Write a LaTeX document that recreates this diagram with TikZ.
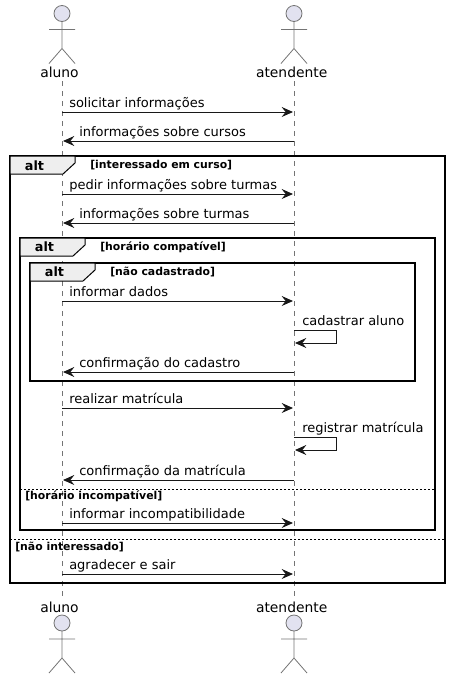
\documentclass[tikz,border=0pt]{standalone}
\usepackage{fontspec}
\usepackage{xcolor}
\usepackage{tikz}
\usetikzlibrary{arrows.meta, positioning, calc}
\setmainfont{DejaVu Sans}
\definecolor{umlline}{HTML}{181818}
\definecolor{actorfill}{HTML}{E2E2F0}
\definecolor{tabfill}{HTML}{EEEEEE}

\begin{document}
\begin{tikzpicture}[
    x=0.75pt,
    y=-0.75pt,
    every node/.style={text=black},
    actorname/.style={
        inner sep=0pt,
        anchor=base,
        font=\fontsize{10.4pt}{12pt}\selectfont
    },
    lifeline/.style={
        draw=umlline!60,
        line width=0.5pt,
        dash pattern=on 3.75pt off 3.75pt
    },
    message/.style={
        -{Stealth[length=8.5pt, width=7.5pt, inset=3pt]},
        line width=0.75pt,
        draw=umlline
    },
    msgtext/.style={
        inner sep=0pt,
        anchor=base west,
        font=\fontsize{9.75pt}{12pt}\selectfont
    },
    framebox/.style={
        draw=black,
        line width=1.1pt
    },
    frametab/.style={
        draw=black,
        fill=tabfill,
        line width=0.75pt
    },
    altword/.style={
        inner sep=0pt,
        anchor=base,
        font=\fontsize{9.6pt}{12pt}\selectfont\bfseries
    },
    guard/.style={
        inner sep=0pt,
        anchor=base west,
        font=\fontsize{8.15pt}{10pt}\selectfont\bfseries
    },
    elseline/.style={
        draw=black,
        line width=0.75pt,
        dash pattern=on 1.5pt off 1.5pt
    },
    actorfig/.pic={
        \draw[fill=actorfill, draw=umlline!60, line width=0.6pt] (0,0) circle (8);
        \draw[draw=umlline!60, line width=0.6pt] (0,8) -- (0,35) (-13,16) -- (13,16)
            (-13,50) -- (0,35) -- (13,50);
    }
]
\useasboundingbox (0,0) rectangle (451,679);

% Actors on top
\pic at (62,13.5) {actorfig};
\pic at (294,13.5) {actorfig};
\node[actorname] (alunoTop) at (59.5,77) {aluno};
\node[actorname] (atendenteTop) at (291.7,77) {atendente};

% Actors at the bottom
\node[actorname] (alunoBottom) at (59.5,612) {aluno};
\node[actorname] (atendenteBottom) at (291.7,612) {atendente};
\pic at (62,623) {actorfig};
\pic at (294,623) {actorfig};

% Lifelines
\coordinate (alunoStart) at (62,81);
\coordinate (alunoEnd) at (62,596);
\coordinate (atendenteStart) at (294,81);
\coordinate (atendenteEnd) at (294,596);
\draw[lifeline] (alunoStart) -- (alunoEnd);
\draw[lifeline] (atendenteStart) -- (atendenteEnd);

% Outer frame
\draw[framebox] (10,156) rectangle (445,583);
\filldraw[frametab] (10,156) -- (75,156) -- (75,163) -- (63,174) -- (10,174) -- cycle;
\node[altword] (altOuter) at (34.5,170) {alt};
\node[guard] (guardOuter) at (90,168) {[interessado em curso]};
\draw[elseline] (10,539) -- (445,539);
\node[guard] (guardOuterElse) at (15,550) {[não interessado]};

% Middle frame
\draw[framebox] (20,238) rectangle (435,530);
\filldraw[frametab] (20,238) -- (85,238) -- (85,245) -- (73,256) -- (20,256) -- cycle;
\node[altword] (altMiddle) at (44.5,251) {alt};
\node[guard] (guardMiddle) at (100,250) {[horário compatível]};
\draw[elseline] (20,489) -- (435,489);
\node[guard] (guardMiddleElse) at (25,499) {[horário incompatível]};

% Inner frame
\draw[framebox] (30,263) rectangle (415,381);
\filldraw[frametab] (30,263) -- (95,263) -- (95,270) -- (83,281) -- (30,281) -- cycle;
\node[altword] (altInner) at (54.5,276) {alt};
\node[guard] (guardInner) at (110,275) {[não cadastrado]};

% Messages
\coordinate (a1) at (62,112);
\coordinate (b1) at (293,112);
\draw[message] (a1) -- (b1);
\node[msgtext] (m1) at (69,107) {solicitar informações};

\coordinate (b2) at (294,141);
\coordinate (a2) at (63,141);
\draw[message] (b2) -- (a2);
\node[msgtext] (m2) at (79,136) {informações sobre cursos};

\coordinate (a3) at (62,194);
\coordinate (b3) at (293,194);
\draw[message] (a3) -- (b3);
\node[msgtext] (m3) at (69,189) {pedir informações sobre turmas};

\coordinate (b4) at (294,223);
\coordinate (a4) at (63,223);
\draw[message] (b4) -- (a4);
\node[msgtext] (m4) at (79,218) {informações sobre turmas};

\coordinate (a5) at (62,301);
\coordinate (b5) at (293,301);
\draw[message] (a5) -- (b5);
\node[msgtext] (m5) at (69,296) {informar dados};

% Self call
\coordinate (c6) at (294,330);
\coordinate (d6) at (295,343);
\draw[message] (c6) -- (336.5,330) -- (336.5,343) -- (d6);
\node[msgtext] (m6) at (302,325) {cadastrar aluno};

\coordinate (b7) at (294,372);
\coordinate (a7) at (63,372);
\draw[message] (b7) -- (a7);
\node[msgtext] (m7) at (79,367) {confirmação do cadastro};

\coordinate (a8) at (62,408);
\coordinate (b8) at (293,408);
\draw[message] (a8) -- (b8);
\node[msgtext] (m8) at (69,403) {realizar matrícula};

% Self call
\coordinate (c9) at (294,437);
\coordinate (d9) at (295,450);
\draw[message] (c9) -- (336.5,437) -- (336.5,450) -- (d9);
\node[msgtext] (m9) at (302,432) {registrar matrícula};

\coordinate (b10) at (294,480);
\coordinate (a10) at (63,480);
\draw[message] (b10) -- (a10);
\node[msgtext] (m10) at (79,475) {confirmação da matrícula};

\coordinate (a11) at (62,523);
\coordinate (b11) at (293,523);
\draw[message] (a11) -- (b11);
\node[msgtext] (m11) at (69,518) {informar incompatibilidade};

\coordinate (a12) at (62,574);
\coordinate (b12) at (293,574);
\draw[message] (a12) -- (b12);
\node[msgtext] (m12) at (69,569) {agradecer e sair};

\end{tikzpicture}
\end{document}
